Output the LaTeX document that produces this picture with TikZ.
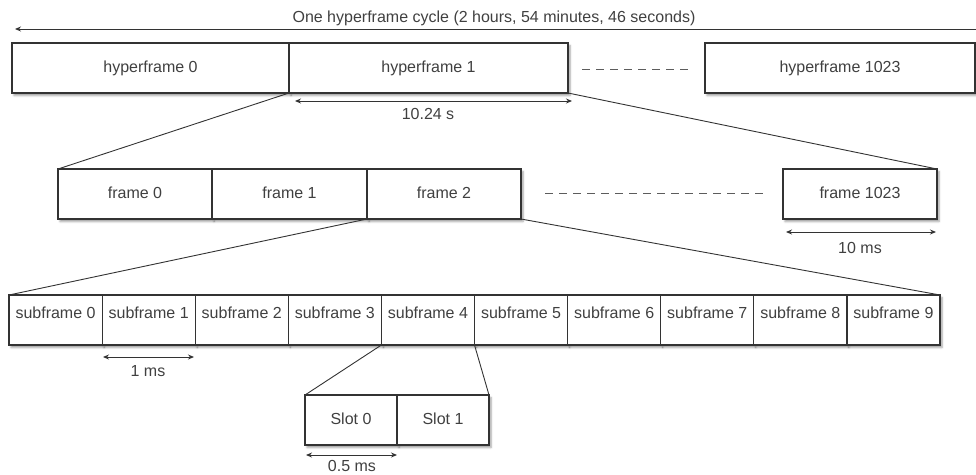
\documentclass[tikz,border=0pt]{standalone}
\usepackage{fontspec}
\setmainfont{Liberation Sans}
\usetikzlibrary{arrows.meta,shadows.blur}
\definecolor{ink}{HTML}{333333}
\definecolor{txt}{HTML}{404040}
\begin{document}
\begin{tikzpicture}[x=1pt,y=-1pt,
  lettering/.style={font=\fontsize{16}{19}\selectfont},
  cell/.style={draw=ink, line width=1.2pt, fill=white, anchor=north west,
    minimum height=50pt, inner sep=0pt, outer sep=0pt, text=txt, lettering,
    text height=11.5pt, text depth=3pt,
    blur shadow={shadow xshift=2pt, shadow yshift=-2.5pt,
      shadow blur radius=2pt, shadow opacity=40}},
  highcell/.style={cell, text depth=14pt},
  link/.style={draw=ink, line width=0.9pt},
  gap/.style={draw=ink!80, line width=0.9pt, dash pattern=on 8pt off 6pt},
  span/.style={draw=ink, line width=0.9pt, {Stealth[length=6pt,width=5pt]}-{Stealth[length=6pt,width=5pt]}},
  oneway/.style={draw=ink, line width=0.9pt, {Stealth[length=6pt,width=5pt]}-},
  caption/.style={text=txt, lettering, inner sep=0pt}]
\useasboundingbox (0,0) rectangle (976,474);

% overall cycle
\coordinate (cycL) at (15,29);
\coordinate (cycR) at (978,29);
\draw[oneway] (cycL) -- (cycR);
\node[caption] (cyc) at (494,18) {One hyperframe cycle (2 hours, 54 minutes, 46 seconds)};

% hyperframes
\node[cell, minimum width=277pt] (h0) at (12,43) {hyperframe 0};
\node[cell, minimum width=279pt] (h1) at (289,43) {hyperframe 1};
\node[cell, minimum width=270pt] (h1023) at (705,43) {hyperframe 1023};
\coordinate (hg1) at (582,69);
\coordinate (hg2) at (692,69);
\draw[gap] (hg1) -- (hg2);

\coordinate (hsL) at (295,101);
\coordinate (hsR) at (572,101);
\draw[span] (hsL) -- (hsR);
\node[caption] (hsT) at (428,114) {10.24 s};

% frames
\node[cell, minimum width=154pt] (f0) at (58,169) {frame 0};
\node[cell, minimum width=155pt] (f1) at (212,169) {frame 1};
\node[cell, minimum width=154pt] (f2) at (367,169) {frame 2};
\node[cell, minimum width=154pt] (f1023) at (783,169) {frame 1023};
\coordinate (fg1) at (545,193);
\coordinate (fg2) at (764,193);
\draw[gap] (fg1) -- (fg2);

\draw[link] (h1.south west) -- (f0.north west);
\draw[link] (h1.south east) -- (f1023.north east);

\coordinate (fsL) at (786,232);
\coordinate (fsR) at (936,232);
\draw[span] (fsL) -- (fsR);
\node[caption] (fsT) at (860,248) {10 ms};

% subframes
\foreach \i in {0,...,9}{
  \node[highcell, minimum width=93.1pt] (s\i) at ({9+93.1*\i},295) {subframe \i};
}
\draw[link] (f2.south west) -- (s0.north west);
\draw[link] (f2.south east) -- (s9.north east);

\coordinate (ssL) at (103,357);
\coordinate (ssR) at (194,357);
\draw[span] (ssL) -- (ssR);
\node[caption] (ssT) at (148,371) {1 ms};

% slots
\node[cell, minimum width=92pt] (t0) at (305,395) {Slot 0};
\node[cell, minimum width=92pt] (t1) at (397,395) {Slot 1};
\draw[link] (s4.south west) -- (t0.north west);
\draw[link] (s4.south east) -- (t1.north east);

\coordinate (tsL) at (306,455);
\coordinate (tsR) at (397,455);
\draw[span] (tsL) -- (tsR);
\node[caption] (tsT) at (352,465.5) {0.5 ms};
\end{tikzpicture}
\end{document}
